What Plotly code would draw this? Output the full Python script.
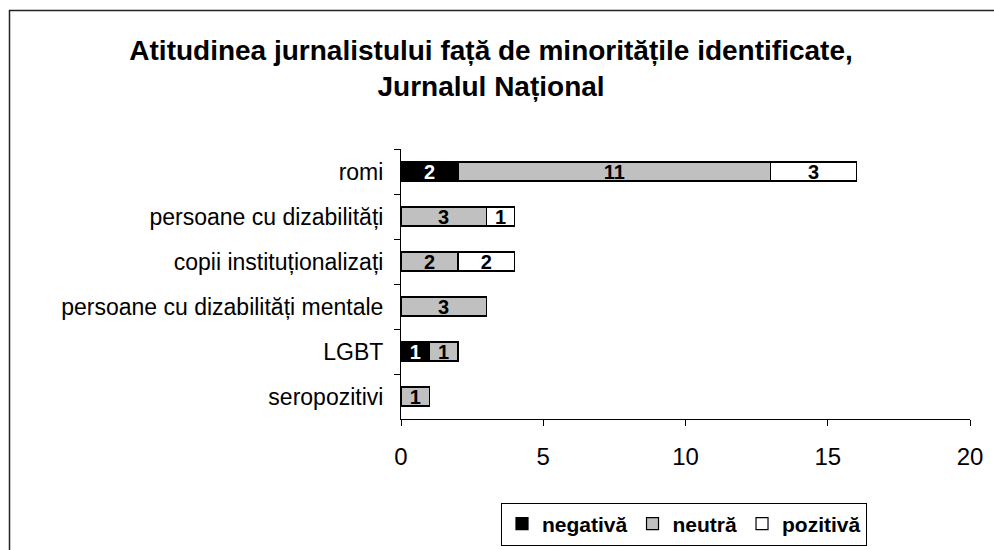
import plotly.graph_objects as go

categories = ["romi", "persoane cu dizabilități", "copii instituționalizați",
              "persoane cu dizabilități mentale", "LGBT", "seropozitivi"]
negativa = [2, None, None, None, 1, None]
neutra = [11, 3, 2, 3, 1, 1]
pozitiva = [3, 1, 2, None, None, None]

series = [("negativă", negativa, "#000000", "#FFFFFF"),
          ("neutră", neutra, "#C0C0C0", "#000000"),
          ("pozitivă", pozitiva, "#FFFFFF", "#000000")]

FONT = "Liberation Sans, Arial, sans-serif"

fig = go.Figure()
for name, vals, color, tcolor in series:
    fig.add_trace(go.Bar(
        y=categories, x=vals, name=name, orientation="h",
        marker=dict(color=color, line=dict(color="#000000", width=1.2)),
        text=vals, texttemplate="%{x}", textposition="inside",
        insidetextanchor="middle", textangle=0,
        textfont=dict(family=FONT, size=20, color=tcolor, weight="bold"),
        hoverinfo="skip",
    ))

L, R, T, B = 401, 24, 149, 131
W, H = 994, 550
pw, ph = W - L - R, H - T - B

def px(x):
    return (x - L) / pw

def py(y):
    return (H - B - y) / ph

fig.update_layout(
    width=W, height=H,
    margin=dict(l=L, r=R, t=T, b=B, autoexpand=False),
    barmode="stack", bargap=0.58,
    plot_bgcolor="white", paper_bgcolor="white",
    font=dict(family=FONT, color="#000000", size=21),
    uniformtext=dict(minsize=20, mode="show"),
    title=dict(
        text="Atitudinea jurnalistului față de minoritățile identificate,<br>Jurnalul Național",
        x=0.494, xref="container", xanchor="center",
        y=1 - 60 / H, yref="container", yanchor="middle",
        font=dict(family=FONT, size=28, weight="bold", color="#000000"),
    ),
    xaxis=dict(range=[0, 20], dtick=5, showgrid=False, zeroline=False,
               showline=True, linecolor="#000000", linewidth=1,
               ticks="outside", ticklen=6, tickcolor="#000000",
               ticklabelstandoff=10, tickfont=dict(size=24)),
    yaxis=dict(categoryorder="array", categoryarray=categories,
               autorange="reversed", showgrid=False, zeroline=False,
               showline=True, linecolor="#000000", linewidth=1,
               ticks="outside", ticklen=6, tickcolor="#000000",
               tickson="boundaries", ticklabelstandoff=12,
               tickfont=dict(size=23)),
    legend=dict(orientation="h", x=px(684), xanchor="center",
                y=py(524), yanchor="middle", traceorder="normal",
                bordercolor="#000000", borderwidth=1,
                font=dict(family=FONT, size=21, weight="bold"),
                itemwidth=30, tracegroupgap=0),
    shapes=[dict(type="rect", xref="paper", yref="paper",
                 x0=px(9.5), x1=px(1100), y0=py(10.5), y1=py(700),
                 line=dict(color="#222222", width=1.5), layer="below")],
    showlegend=True,
)

fig.write_html("out.html", config={"displayModeBar": False},
               post_script="document.body.style.margin='0';")
